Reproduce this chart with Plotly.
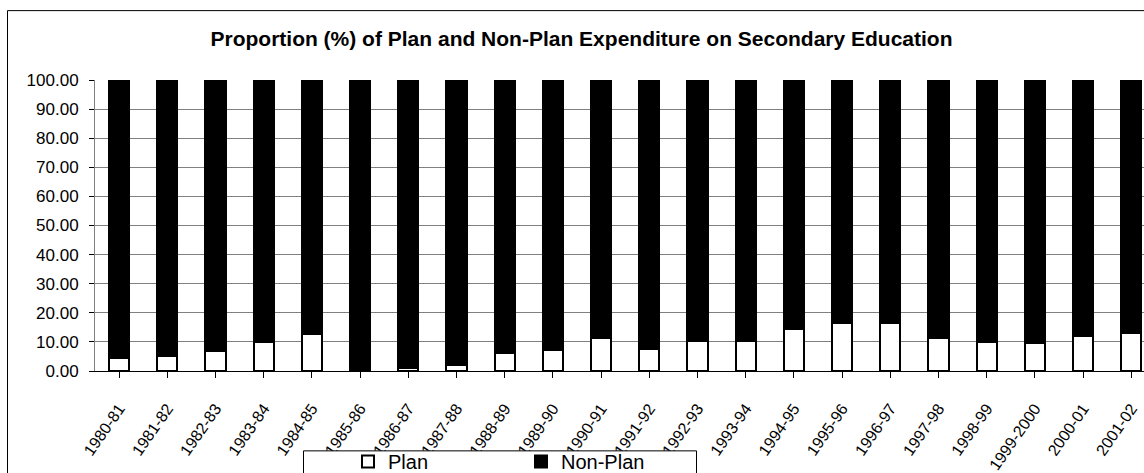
import plotly.graph_objects as go

years = ["1980-81", "1981-82", "1982-83", "1983-84", "1984-85", "1985-86",
         "1986-87", "1987-88", "1988-89", "1989-90", "1990-91", "1991-92",
         "1992-93", "1993-94", "1994-95", "1995-96", "1996-97", "1997-98",
         "1998-99", "1999-2000", "2000-01", "2001-02"]
plan = [4.6, 5.3, 7.0, 10.0, 12.7, 0.0, 1.0, 2.0, 6.3, 7.3, 11.2, 7.6,
        10.2, 10.2, 14.5, 16.4, 16.5, 11.4, 10.0, 9.6, 11.9, 13.0]
non_plan = [95.4, 94.7, 93.0, 90.0, 87.3, 100.0, 99.0, 98.0, 93.7, 92.7, 88.8, 92.4,
            89.8, 89.8, 85.5, 83.6, 83.5, 88.6, 90.0, 90.4, 88.1, 87.0]
y_ticks = [0, 10, 20, 30, 40, 50, 60, 70, 80, 90, 100]

FONT = "Arial, Liberation Sans, sans-serif"

fig = go.Figure()
fig.add_trace(go.Bar(
    x=list(range(len(years))), y=plan, name="Plan", width=0.42,
    marker=dict(color="white", line=dict(color="black", width=2)),
))
fig.add_trace(go.Bar(
    x=list(range(len(years))), y=non_plan, name="Non-Plan", width=0.42,
    marker=dict(color="black", line=dict(color="black", width=2)),
))

W, H = 1144, 473
L, R, T, B = 95, 0, 80, 101.5
pw, ph = W - L - R, H - T - B
cat_w = 48.2

def px_to_paper_x(px):
    return (px - L) / pw

def px_to_paper_y(py):
    return (H - B - py) / ph

fig.update_layout(
    width=W, height=H, autosize=False,
    margin=dict(l=L, r=R, t=T, b=B, pad=0, autoexpand=False),
    paper_bgcolor="white", plot_bgcolor="white",
    barmode="stack", bargap=0,
    font=dict(family=FONT, color="black", size=16),
    title=dict(
        text="<b>Proportion (%) of Plan and Non-Plan Expenditure on Secondary Education</b>",
        x=px_to_paper_x(581.5), xref="paper", xanchor="center",
        y=1 - 39 / H, yref="container", yanchor="middle",
        font=dict(family=FONT, size=21, color="black"),
    ),
    xaxis=dict(
        range=[-0.5, -0.5 + pw / cat_w], automargin=False,
        tickmode="array", tickvals=list(range(len(years))), ticktext=years,
        tickson="boundaries", ticks="outside", ticklen=6, tickcolor="black",
        tickangle=-55, ticklabelstandoff=15,
        showline=True, linecolor="black", linewidth=1,
        showgrid=False, zeroline=False,
        tickfont=dict(family=FONT, size=16, color="black"),
    ),
    yaxis=dict(
        range=[0, 100], tickmode="array", tickvals=y_ticks, automargin=False,
        tickformat=".2f", ticks="outside", ticklen=5, tickcolor="black",
        ticklabelstandoff=7,
        showline=True, linecolor="#808080", linewidth=1,
        showgrid=True, gridcolor="#808080", gridwidth=1, zeroline=False,
        tickfont=dict(family=FONT, size=17, color="black"),
    ),
    legend=dict(
        orientation="h", x=px_to_paper_x(303), xanchor="left",
        y=px_to_paper_y(442.5), yanchor="top",
        borderwidth=0, bgcolor="rgba(0,0,0,0)",
        font=dict(family=FONT, size=20, color="black"),
        entrywidth=83, entrywidthmode="pixels", indentation=45,
        traceorder="normal",
    ),
    showlegend=True,
    shapes=[
        dict(
            type="rect", xref="paper", yref="paper",
            x0=px_to_paper_x(7.5), x1=px_to_paper_x(1200),
            y0=px_to_paper_y(520), y1=px_to_paper_y(10.5),
            line=dict(color="black", width=1), fillcolor="rgba(0,0,0,0)",
            layer="below",
        ),
        dict(
            type="rect", xref="paper", yref="paper",
            x0=px_to_paper_x(303.5), x1=px_to_paper_x(696.5),
            y0=px_to_paper_y(520), y1=px_to_paper_y(451.5),
            line=dict(color="black", width=1), fillcolor="white",
            layer="above",
        ),
    ],
)

fig.write_html("out.html")
